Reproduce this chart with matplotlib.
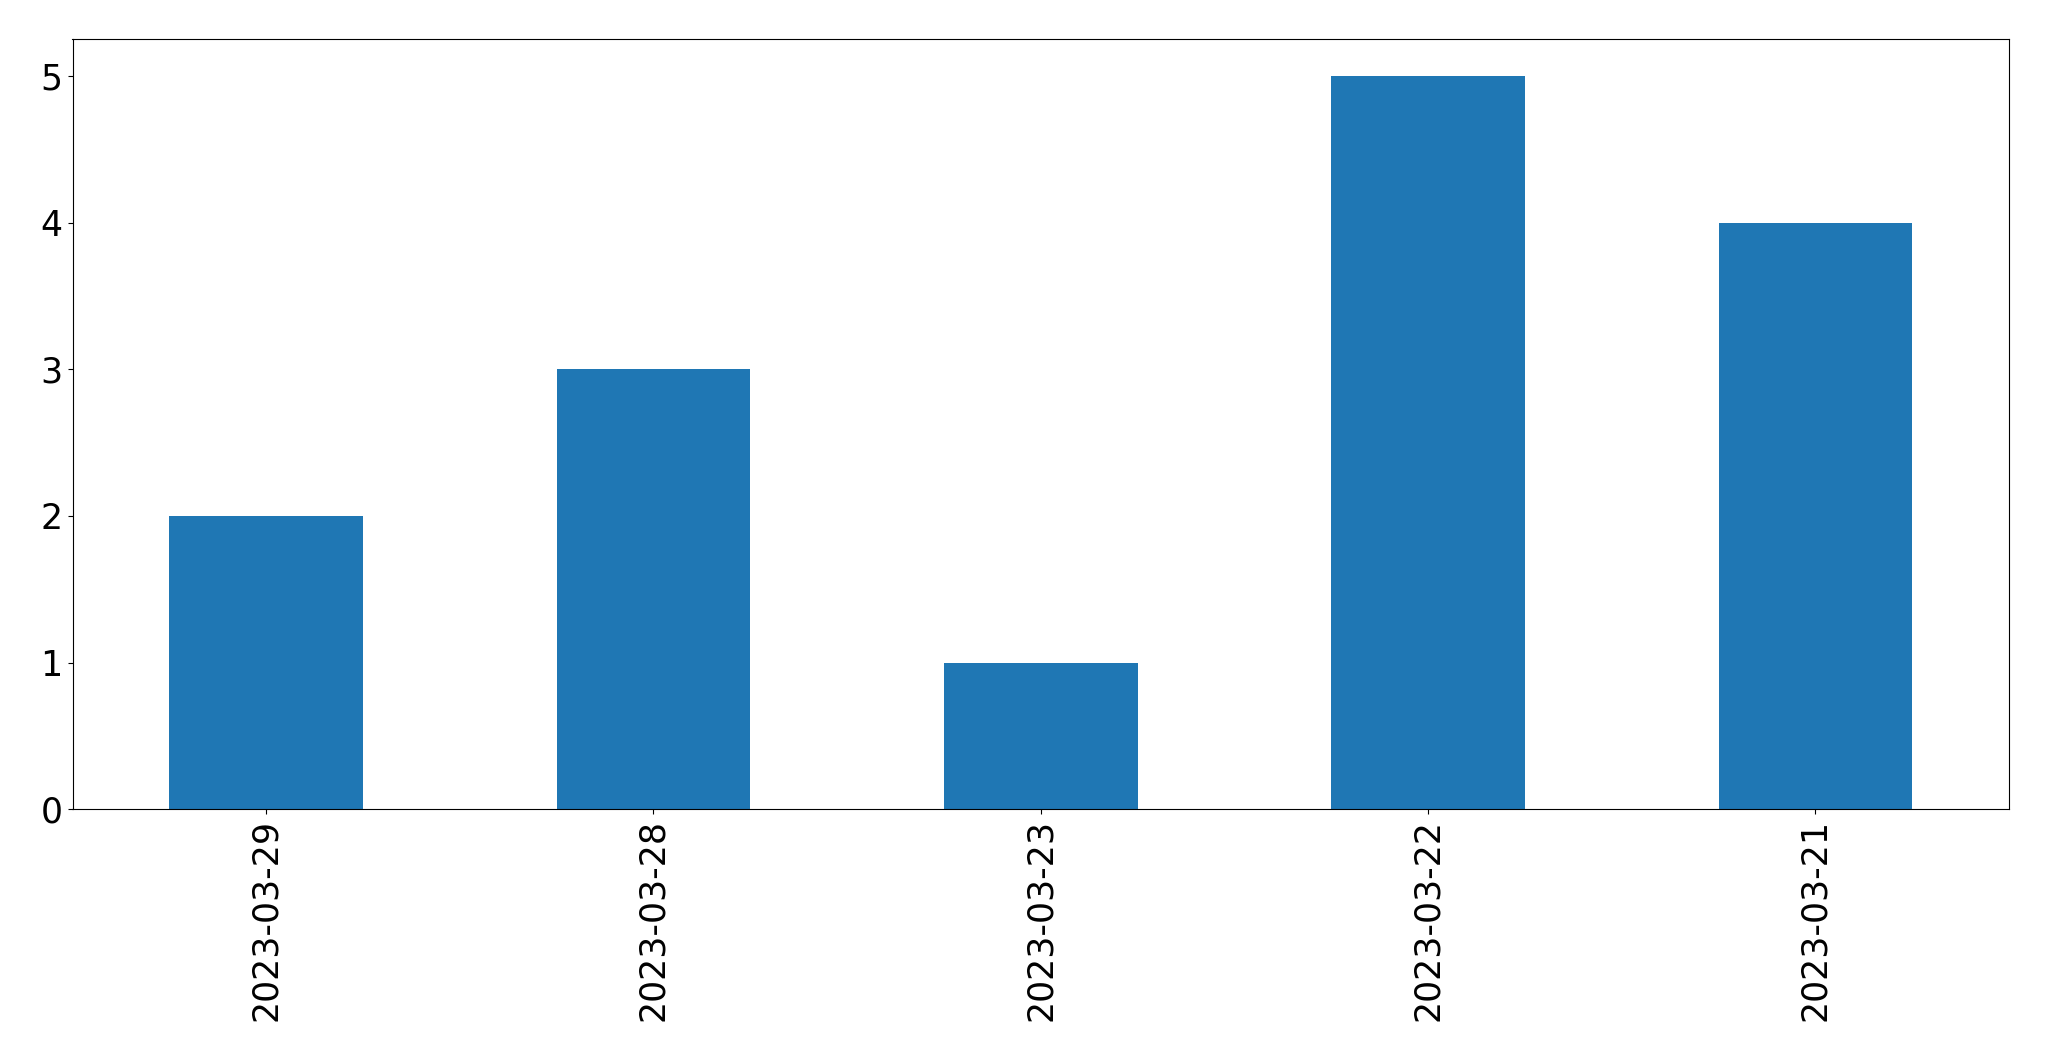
import matplotlib
matplotlib.use('Agg')
import matplotlib.pyplot as plt
import pandas as pd

dates = ['2023-03-29', '2023-03-28', '2023-03-23', '2023-03-22', '2023-03-21']
counts = [2, 3, 1, 5, 4]

def plot_counts():
    s = pd.Series(counts, index=dates)
    fig, ax = plt.subplots(figsize=(20.49, 10.61), dpi=100)
    s.plot(kind='bar', ax=ax, color='#1f77b4', fontsize=25)
    fig.subplots_adjust(left=72.5 / 2049, right=2009 / 2049,
                        top=1 - 39.3 / 1061, bottom=1 - 809.3 / 1061)
    fig.savefig('out.png', dpi=100)

if __name__ == "__main__":
    plot_counts()
